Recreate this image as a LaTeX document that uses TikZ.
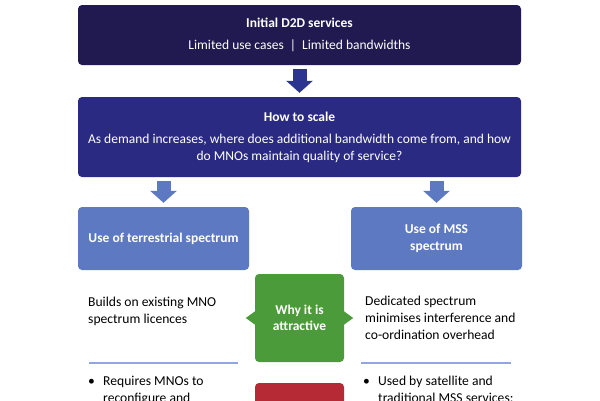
\documentclass[tikz,border=0pt]{standalone}
\usepackage{fontspec}
\setmainfont{Carlito}
\usetikzlibrary{arrows.meta}

\definecolor{navyA}{RGB}{32,26,80}
\definecolor{navyB}{RGB}{42,42,130}
\definecolor{arrowblue}{RGB}{43,53,144}
\definecolor{midblue}{RGB}{92,121,193}
\definecolor{attrgreen}{RGB}{75,155,58}
\definecolor{riskred}{RGB}{181,42,52}
\definecolor{rulecol}{RGB}{143,166,222}

\begin{document}
\begin{tikzpicture}[x=1pt, y=-1pt,
    box/.style={rounded corners=4pt, text=white, align=center, inner sep=0pt,
        font=\fontsize{13.5}{16.5}\selectfont},
    bigarrow/.style={line width=14pt, -{Triangle[length=12pt,width=26pt]},
        shorten <=4pt, shorten >=4pt},
    body/.style={align=left, anchor=west, inner sep=0pt,
        font=\fontsize{13.6}{17}\selectfont}]
    \useasboundingbox (0,0) rectangle (600,400);
    \clip (0,0) rectangle (600,400);

    % Top boxes
    \node[box, fill=navyA, minimum width=443pt, minimum height=60pt] (d2d) at (299.5,35)
        {\textbf{Initial D2D services}\\[5pt] Limited use cases\ \ |\ \ Limited bandwidths};
    \node[box, fill=navyB, minimum width=443pt, minimum height=80pt] (scale) at (299.5,137)
        {\textbf{How to scale}\\[6pt] As demand increases, where does additional bandwidth come from, and how\\ do MNOs maintain quality of service?};

    % Spectrum options
    \node[box, fill=midblue, minimum width=171pt, minimum height=63pt] (terr) at (163.5,238.5)
        {\textbf{Use of terrestrial spectrum}};
    \node[box, fill=midblue, minimum width=171pt, minimum height=63pt] (mss) at (436.5,238.5)
        {\textbf{Use of MSS}\\ \textbf{spectrum}};

    % Arrows
    \draw[bigarrow, arrowblue] (d2d) -- (scale);
    \draw[bigarrow, midblue] (scale.south -| terr.north) -- (terr.north);
    \draw[bigarrow, midblue] (scale.south -| mss.north) -- (mss.north);

    % Why it is attractive
    \node[box, fill=attrgreen, minimum width=89pt, minimum height=88pt] (why) at (299.5,318)
        {\textbf{Why it is}\\ \textbf{attractive}};
    \fill[attrgreen] ([xshift=2pt]why.west) ++(0,-8) -- ++(-11,8) -- ++(11,8) -- cycle;
    \fill[attrgreen] ([xshift=-2pt]why.east) ++(0,-8) -- ++(11,8) -- ++(-11,8) -- cycle;
    \node[box, fill=riskred, minimum width=89pt, minimum height=88pt] (whynot) at (299.5,427) {};

    \node[body] (builds) at (88,311.5) {Builds on existing MNO\\ spectrum licences};
    \node[body] (dedicated) at (365,318) {Dedicated spectrum\\ minimises interference and\\ co-ordination overhead};

    % Rules
    \draw[rulecol, line width=1.8pt] (89,363) -- (238,363);
    \draw[rulecol, line width=1.8pt] (361,363) -- (511,363);

    % Drawbacks
    \node[body] (reqs) at (88,390.5)
        {\makebox[15pt][l]{\textbullet}Requires MNOs to\\ \hspace*{15pt}reconfigure and};
    \node[body] (used) at (363,390.5)
        {\makebox[15pt][l]{\textbullet}Used by satellite and\\ \hspace*{15pt}traditional MSS services;};
\end{tikzpicture}
\end{document}
